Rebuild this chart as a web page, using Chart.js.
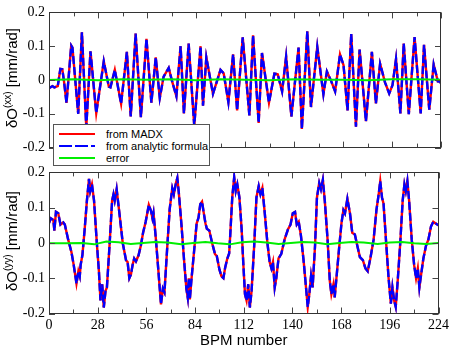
<!DOCTYPE html>
<html>
<head>
<meta charset="utf-8">
<script src="https://cdn.jsdelivr.net/npm/chart.js@4.4.1/dist/chart.umd.min.js"></script>
<style>
  body { margin: 0; background: #fff; width: 452px; height: 350px; overflow: hidden; position: relative; font-family: "Liberation Sans", Arial, sans-serif; }
  #topBox { position: absolute; left: 0; top: 0; width: 452px; height: 160px; }
  #botBox { position: absolute; left: 0; top: 160px; width: 452px; height: 190px; }
  .ytitle { position: absolute; left: 11px; font-size: 15px; white-space: nowrap; color: #000; transform: translate(-50%, -50%) rotate(-90deg); }
  .ytitle sup { font-size: 10px; vertical-align: 6px; }
  #legend { position: absolute; left: 53px; top: 124px; width: 155px; height: 40px; background: #fff; border: 1px solid #555; font-size: 11px; color: #000; }
  #legend .row { position: absolute; left: 5px; height: 12px; line-height: 12px; }
  #legend svg { position: absolute; left: 0; top: 2px; }
  #legend span { position: absolute; left: 47px; top: 0; white-space: nowrap; }
</style>
</head>
<body>
<div id="topBox"><canvas id="topChart"></canvas></div>
<div id="botBox"><canvas id="botChart"></canvas></div>
<div class="ytitle" style="top:78px">δO<sup>(xx)</sup> [mm/rad]</div>
<div class="ytitle" style="top:241px">δO<sup>(yy)</sup> [mm/rad]</div>
<div id="legend">
  <div class="row" style="top:3px"><svg width="40" height="8"><line x1="0" y1="4" x2="36" y2="4" stroke="#ff0000" stroke-width="2"/></svg><span>from MADX</span></div>
  <div class="row" style="top:15px"><svg width="40" height="8"><line x1="0" y1="4" x2="36" y2="4" stroke="#0000ff" stroke-width="2" stroke-dasharray="13 3"/></svg><span>from analytic formula</span></div>
  <div class="row" style="top:27px"><svg width="40" height="8"><line x1="0" y1="4" x2="36" y2="4" stroke="#00ee00" stroke-width="2"/></svg><span>error</span></div>
</div>
<script>
// top panel: dO(xx), vertices
const xxBpm = [0, 2, 3, 5, 6.5, 7.6, 8.6, 10, 12.7, 13.4, 16.7, 18.8, 21.3, 23.7, 27, 31.3, 34.2, 35.1, 37.6, 41.2,
  44.5, 46.7, 49.5, 52.5, 55.7, 58.5, 61, 63.3, 65.5, 68.4, 70.4, 72.8, 75.2, 77.1, 79.8, 83, 86.6, 88, 89.9, 93.7,
  98, 99.8, 102.5, 105.2, 107.5, 110.7, 114.5, 116.6, 119.8, 121.7, 125.7, 128.8, 130.7, 133.2, 135.5, 138.5, 142.6, 144.5, 147.6, 149.7,
  153.3, 156.8, 158.8, 161.3, 163.5, 166.3, 168.3, 170.6, 172.7, 175.4, 177.5, 181.1, 184.5, 186.8, 189.2, 192, 194.4, 196.3, 198.3, 200.8,
  202.7, 205.6, 208.9, 212.4, 214.3, 217.3, 219.8, 222.2, 223.4, 224];
const xxMadx = [-0.024, -0.018, -0.022, -0.018, 0.033, 0.032, -0.005, -0.068, 0.102, 0.096, -0.1, 0.141, -0.14, 0.085, -0.098, 0.055, -0.02, -0.022, 0.03, -0.07,
  0.083, -0.108, 0.137, -0.11, 0.122, -0.067, 0.067, -0.053, 0.01, 0.036, -0.005, -0.048, 0.1, -0.099, 0.108, -0.135, 0.1, -0.076, 0.067, -0.041,
  0.03, 0.02, -0.065, 0.076, -0.09, 0.126, -0.105, 0.132, -0.127, 0.08, -0.067, 0.019, 0.017, -0.034, 0.069, -0.108, 0.096, -0.145, 0.144, -0.08,
  0.098, -0.042, 0.025, -0.004, -0.034, 0.076, 0.044, -0.09, 0.136, -0.138, 0.09, -0.122, 0.083, -0.069, 0.048, -0.007, -0.04, -0.015, 0.062, -0.099,
  0.108, -0.101, 0.127, -0.099, 0.104, -0.088, 0.046, -0.004, -0.005, -0.01];
const xxAnalytic = xxMadx; // indistinguishable from MADX at this scale
const xxErrBpm = [0, 14, 28, 42, 56, 70, 84, 98, 112, 126, 140, 154, 168, 182, 196, 210, 224];
const xxErr = [0, 0.002, -0.001, 0.002, 0.001, 0.002, -0.001, 0.002, 0.001, -0.001, 0.002, 0.001, 0.001, -0.001, 0.002, 0.002, 0.001];

// bottom panel: dO(yy)
const yyBpm = [0, 1, 2.5, 3.1, 4, 5.3, 6.6, 8.2, 9.1, 11, 12.9, 14.2, 15.8, 16.9, 17.7, 18.2, 19.2, 20.5, 21.8, 23,
  23.7, 24.7, 25.9, 27.5, 28.7, 29.6, 30.6, 31.5, 32.5, 33.3, 34.8, 36.3, 37.1, 37.8, 38.9, 40.5, 42.4, 44.3, 45.2, 46.2,
  47.1, 48.1, 49, 50, 51.5, 52.8, 54.1, 55.6, 57.4, 58.7, 59.5, 60.1, 61.4, 63, 64.4, 65.5, 66.4, 68, 69.4, 70.9,
  71.8, 73, 73.8, 74.7, 76.2, 77.7, 79, 79.8, 80.4, 81, 81.9, 83.5, 84.9, 86, 87, 88, 88.9, 90, 90.8, 92.2,
  93.8, 95.5, 96.5, 98, 99.2, 100.3, 101.3, 102.5, 103.6, 104.2, 105.4, 106.5, 107.4, 108.3, 109.5, 110.8, 111.7, 112.7, 113.6, 114.6,
  115.5, 116.5, 118, 119.3, 120.6, 121.6, 122.7, 124.1, 125.6, 126.9, 127.9, 128.8, 129.8, 130.7, 132, 133.6, 135.5, 137.4, 138.9, 140.2,
  141.5, 142.5, 143.6, 144.9, 146.5, 147.8, 148.8, 149.7, 150.7, 151.6, 153, 154.1, 155.4, 156.4, 157.5, 158.6, 160.2, 161.5, 162.4, 163.6,
  164.3, 165.3, 166.8, 168.2, 169.3, 170.2, 171.6, 173.1, 174.4, 175.9, 177.3, 178.8, 180.5, 182, 183.3, 184.8, 186.7, 188.3, 189.6, 190.5,
  191.5, 192.4, 193.9, 195.3, 196.6, 197.5, 198.5, 199.4, 200.4, 201.9, 203.4, 204.4, 205.2, 206.1, 207.1, 208.6, 210, 211.1, 212.1, 213,
  214, 215.3, 216.8, 218.2, 219.7, 221, 222.2, 223.3, 224];
const yyMadx = [0.056, 0.07, 0.065, 0.035, 0.088, 0.084, 0.052, 0.058, 0.052, 0.01, -0.026, -0.062, -0.115, -0.08, -0.094, -0.062, -0.035, 0.038, 0.12, 0.182,
  0.147, 0.166, 0.12, 0.0, -0.08, -0.163, -0.117, -0.183, -0.136, -0.126, -0.008, 0.12, 0.138, 0.12, 0.152, 0.084, 0.0, -0.049, -0.054, -0.1,
  -0.09, -0.062, -0.044, -0.052, -0.035, -0.008, 0.029, 0.06, 0.108, 0.09, 0.07, 0.085, 0.015, -0.085, -0.174, -0.13, -0.14, -0.012, 0.096, 0.155,
  0.138, 0.17, 0.184, 0.14, 0.05, -0.05, -0.13, -0.155, -0.1, -0.16, -0.105, -0.02, 0.055, 0.072, 0.11, 0.117, 0.088, 0.055, 0.04, 0.035,
  0.0, -0.032, -0.037, -0.075, -0.095, -0.1, -0.07, -0.045, -0.03, 0.02, 0.13, 0.186, 0.147, 0.166, 0.129, 0.038, -0.054, -0.145, -0.163, -0.117,
  -0.183, -0.136, -0.008, 0.129, 0.161, 0.138, 0.156, 0.084, 0.0, -0.054, -0.072, -0.054, -0.126, -0.1, -0.044, -0.031, 0.01, 0.038, 0.052, 0.084,
  0.088, 0.052, 0.06, 0.02, -0.054, -0.126, -0.181, -0.145, -0.094, -0.126, -0.008, 0.129, 0.17, 0.152, 0.179, 0.12, 0.01, -0.108, -0.145, -0.117,
  -0.154, -0.1, -0.017, 0.056, 0.093, 0.084, 0.125, 0.084, 0.029, 0.024, -0.008, -0.04, -0.049, -0.072, -0.08, -0.044, 0.01, 0.093, 0.138, 0.175,
  0.129, 0.111, 0.0, -0.1, -0.172, -0.126, -0.163, -0.181, -0.117, -0.008, 0.12, 0.166, 0.147, 0.175, 0.12, 0.01, -0.063, -0.1, -0.072, -0.126,
  -0.09, -0.044, -0.008, 0.01, 0.047, 0.06, 0.056, 0.052, 0.05];
const yyAnalytic = yyMadx;
const yyErrBpm = [0, 10, 19, 26, 33, 40, 47, 54, 61, 68, 76, 83, 90, 97, 104, 111, 118, 125, 132, 139, 146, 153, 160, 167, 174, 181, 189, 196, 203, 210, 217, 224];
const yyErr = [-0.001, -0.001, 0.0, -0.004, 0.004, 0.002, -0.003, 0.0, 0.003, 0.001, -0.004, 0.0, 0.003, -0.001, -0.004, 0.002, 0.004, 0.001, -0.003, 0.0, 0.003, 0.001, -0.004, 0.0, 0.003, 0.001, -0.003, 0.001, 0.003, -0.001, -0.003, 0.0];

const bpmMajor = 28;
const bpmMinor = 14;

function pts(xs, ys) {
  return xs.map((x, i) => ({ x: x, y: ys[i] }));
}

function datasets(bpm, madx, analytic, errBpm, err) {
  return [
    { label: "error", data: pts(errBpm, err), borderColor: "#00ee00", borderWidth: 2, order: 0 },
    { label: "from analytic formula", data: pts(bpm, analytic), borderColor: "#0000ff", borderWidth: 2.4, borderDash: [8, 3], order: 1 },
    { label: "from MADX", data: pts(bpm, madx), borderColor: "#ff0000", borderWidth: 2.4, order: 2 },
  ];
}

// frame on all four sides with inward ticks, placed by the scales
const frameTicks = {
  id: "frameTicks",
  afterDatasetsDraw(chart) {
    const { ctx, chartArea: a, scales } = chart;
    const x = scales.x, y = scales.y;
    ctx.save();
    ctx.strokeStyle = "#444";
    ctx.lineWidth = 1;
    ctx.beginPath();
    x.ticks.forEach((t) => {
      const px = Math.round(x.getPixelForValue(t.value)) + 0.5;
      const len = t.value % bpmMajor === 0 ? 6 : 4;
      ctx.moveTo(px, a.bottom); ctx.lineTo(px, a.bottom - len);
      ctx.moveTo(px, a.top); ctx.lineTo(px, a.top + len);
    });
    y.ticks.forEach((t) => {
      const py = Math.round(y.getPixelForValue(t.value)) + 0.5;
      const major = Math.round(t.value * 20) % 2 === 0;
      const len = major ? 6 : 4;
      ctx.moveTo(a.left, py); ctx.lineTo(a.left + len, py);
      ctx.moveTo(a.right, py); ctx.lineTo(a.right - len, py);
    });
    ctx.stroke();
    ctx.strokeStyle = "#333";
    ctx.strokeRect(Math.round(a.left) + 0.5, Math.round(a.top) + 0.5, Math.round(a.width) - 1, Math.round(a.height));
    ctx.restore();
  },
};

const tickFont = { family: "'Liberation Serif', 'Times New Roman', serif", size: 14 };

function options(bottom) {
  return {
    responsive: true,
    maintainAspectRatio: false,
    animation: false,
    layout: { padding: { top: bottom ? 7.5 : 5, right: 11, left: 0, bottom: 0 } },
    plugins: { legend: { display: false }, tooltip: { enabled: false } },
    elements: { point: { radius: 0 }, line: { tension: 0 } },
    scales: {
      x: {
        type: "linear",
        min: 0,
        max: 224,
        afterFit: (s) => { s.height = bottom ? 36.5 : 10; },
        grid: { drawOnChartArea: false, drawTicks: false, display: false },
        border: { display: false },
        ticks: {
          display: bottom,
          stepSize: bpmMinor,
          autoSkip: false,
          maxRotation: 0,
          padding: 3,
          color: "#000",
          font: tickFont,
          callback: (v) => (v % bpmMajor === 0 ? String(v) : ""),
        },
        title: {
          display: bottom,
          text: "BPM number",
          color: "#000",
          font: { family: "'Liberation Sans', Arial, sans-serif", size: 15 },
          padding: { top: 0, bottom: 0 },
        },
      },
      y: {
        min: -0.2,
        max: 0.2,
        afterFit: (s) => { s.width = 49; },
        grid: { drawOnChartArea: false, drawTicks: false, display: false },
        border: { display: false },
        ticks: {
          stepSize: 0.05,
          padding: 4,
          color: "#000",
          font: tickFont,
          callback: (v) => {
            const r = Math.round(v * 100) / 100;
            return Math.round(r * 20) % 2 === 0 ? String(r) : "";
          },
        },
      },
    },
  };
}

new Chart(document.getElementById("topChart"), {
  type: "line",
  data: { datasets: datasets(xxBpm, xxMadx, xxAnalytic, xxErrBpm, xxErr) },
  options: options(false),
  plugins: [frameTicks],
});

new Chart(document.getElementById("botChart"), {
  type: "line",
  data: { datasets: datasets(yyBpm, yyMadx, yyAnalytic, yyErrBpm, yyErr) },
  options: options(true),
  plugins: [frameTicks],
});
</script>
</body>
</html>
